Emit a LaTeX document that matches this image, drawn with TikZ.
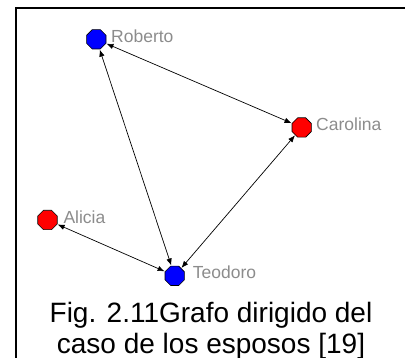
\documentclass[tikz,border=0pt]{standalone}
\usepackage{fontspec}
\setmainfont{Liberation Sans}
\usetikzlibrary{shapes.geometric,arrows.meta}
\definecolor{vblue}{RGB}{0,0,255}
\definecolor{vred}{RGB}{255,0,0}
\definecolor{lblgray}{RGB}{140,140,140}
\tikzset{
  vert/.style={regular polygon, regular polygon sides=8, minimum size=21pt, inner sep=0pt, draw=black, line width=0.6pt},
  lbl/.style={anchor=base west, text=lblgray, font=\fontsize{17.5pt}{20pt}\selectfont, inner sep=0pt},
  edge/.style={{Latex[length=7pt,width=5.5pt]}-{Latex[length=7pt,width=5.5pt]}, line width=0.7pt, black, shorten <=0.3pt, shorten >=0.3pt},
  frame/.style={line width=2pt, black}
}
\begin{document}
\begin{tikzpicture}[x=1pt,y=-1pt]
\useasboundingbox (0,0) rectangle (405,358);
\coordinate (fa) at (16,358);
\coordinate (fb) at (16,8.3);
\coordinate (fc) at (405,8.3);
\draw[frame] (fa) -- (fb) -- (fc);
\node[vert, fill=vblue] (rob) at (96.3,39.3) {};
\node[vert, fill=vred] (car) at (301.7,127.5) {};
\node[vert, fill=vred] (ali) at (47.5,220) {};
\node[vert, fill=vblue] (teo) at (174.7,275.8) {};
\node[lbl] (lrob) at (111,42.7) {Roberto};
\node[lbl] (lcar) at (316,130.7) {Carolina};
\node[lbl] (lali) at (63.3,223.3) {Alicia};
\node[lbl] (lteo) at (192.7,278.3) {Teodoro};
\draw[edge] (rob) -- (car);
\draw[edge] (rob) -- (teo);
\draw[edge] (car) -- (teo);
\draw[edge] (ali) -- (teo);
\node[align=center, font=\fontsize{28pt}{30.6pt}\selectfont, inner sep=0pt, anchor=base] (cap) at (211,353.3) {Fig. 2.11Grafo dirigido del\\caso de los esposos [19]};
\end{tikzpicture}
\end{document}
